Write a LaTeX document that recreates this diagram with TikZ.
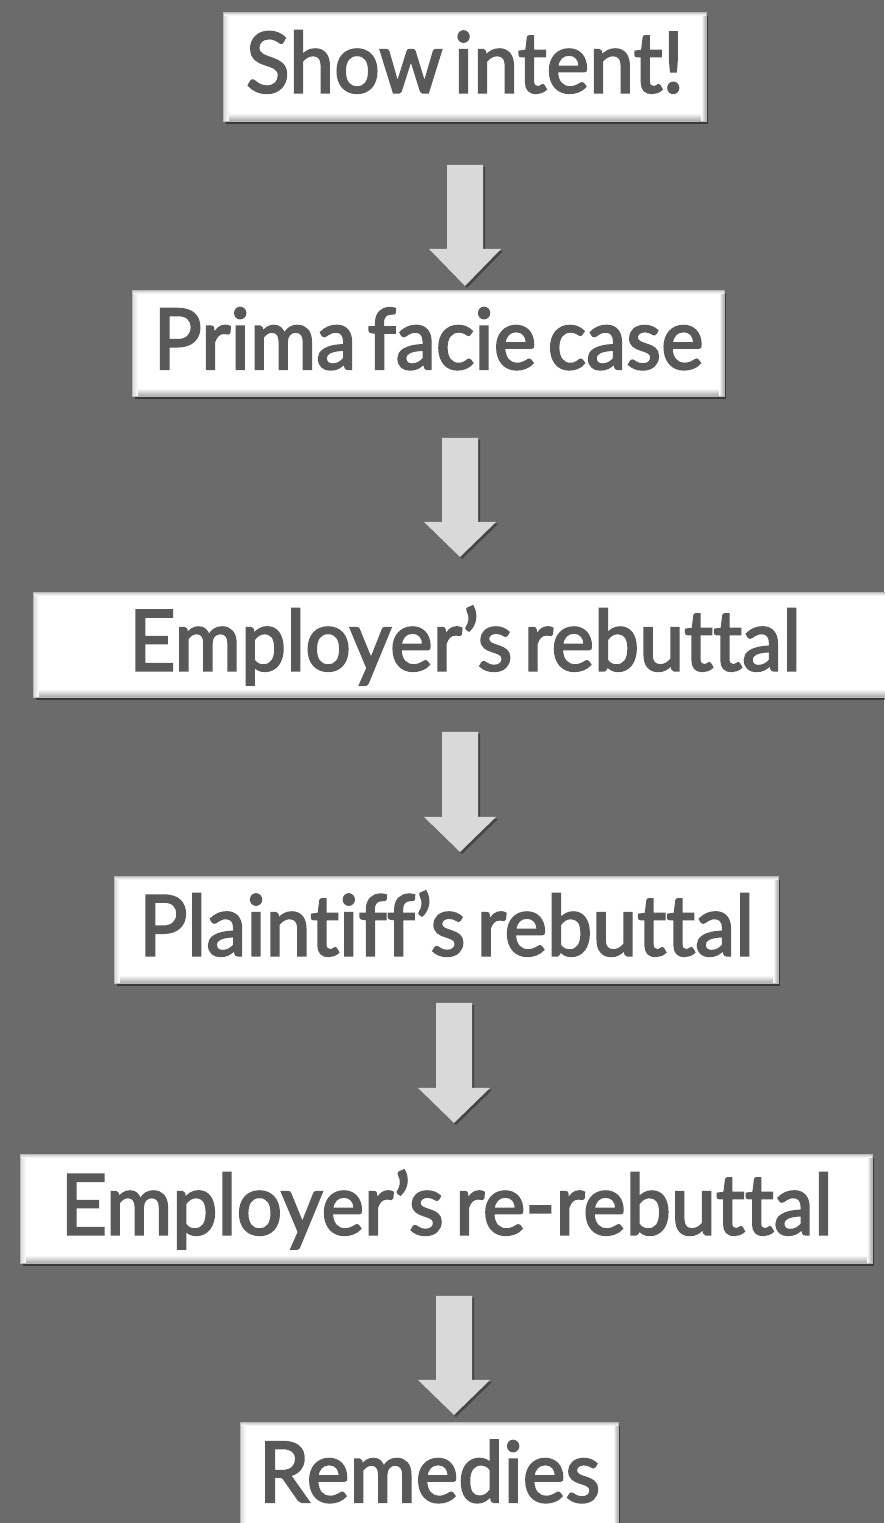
\documentclass[tikz,border=0pt]{standalone}
\usepackage{fontspec}
\setmainfont{Lato}[Ligatures=NoCommon, FakeStretch=0.96, WordSpace=0.55, FakeBold=2.5]
\usetikzlibrary{shadows}
\definecolor{bg}{HTML}{6B6B6B}
\definecolor{txt}{HTML}{595959}
\definecolor{arr}{HTML}{D9D9D9}
\definecolor{edge}{HTML}{A6A6A6}
\tikzset{
  stepbox/.style={fill=white, inner sep=0pt, text=txt,
    drop shadow={shadow xshift=2pt, shadow yshift=-3pt, opacity=0.45, fill=black}},
  steptext/.style={inner sep=0pt, text=txt,
    font=\fontsize{84}{84}\selectfont, text height=60pt, text depth=9pt},
  blockarrow/.style={fill=arr, draw=none,
    drop shadow={shadow xshift=2pt, shadow yshift=-2pt, opacity=0.35, fill=black}}
}
\newcommand\mybevel[1]{%
  \shade[top color=white, bottom color=edge] ([yshift=8pt]#1.south west) rectangle (#1.south east);
  \shade[left color=white, right color=edge] ([xshift=-5pt]#1.south east) rectangle (#1.north east);
  \shade[left color=edge!40, right color=white] (#1.south west) rectangle ([xshift=5pt]#1.north west);
  \shade[top color=edge!50, bottom color=white] (#1.north west) rectangle ([yshift=-3pt]#1.north east);
  \draw[edge!80, line width=0.8pt] (#1.south west) rectangle (#1.north east);
}
\newcommand\myarrow[4]{% center x, top y, head start y, tip y (pixel coords, y down)
  \path[blockarrow] (#1-18,1523-#2) -- (#1+18,1523-#2) -- (#1+18,1523-#3) -- (#1+36,1523-#3)
    -- (#1,1523-#4) -- (#1-36,1523-#3) -- (#1-18,1523-#3) -- cycle;
}
\begin{document}
\begin{tikzpicture}[x=1pt,y=1pt]
\useasboundingbox (0,0) rectangle (884,1523);
\fill[bg] (0,0) rectangle (884,1523);

\node[stepbox, minimum width=482pt, minimum height=108pt] (n1) at (465,1456) {};
\node[stepbox, minimum width=591pt, minimum height=105pt] (n2) at (428.5,1179.5) {};
\node[stepbox, minimum width=862pt, minimum height=104pt] (n3) at (465,878) {};
\node[stepbox, minimum width=663pt, minimum height=106pt] (n4) at (446.5,593) {};
\node[stepbox, minimum width=851pt, minimum height=108pt] (n5) at (446.5,314) {};
\node[stepbox, minimum width=377pt, minimum height=107pt] (n6) at (429.5,46.5) {};

\mybevel{n1}\mybevel{n2}\mybevel{n3}\mybevel{n4}\mybevel{n5}\mybevel{n6}
\node[steptext] (t1) at (n1) {Show intent!};
\node[steptext] (t2) at (n2) {Prima facie case};
\node[steptext] (t3) at (n3) {Employer’s rebuttal};
\node[steptext] (t4) at (n4) {Plaintiff’s rebuttal};
\node[steptext] (t5) at (n5) {Employer’s re-rebuttal};
\node[steptext] (t6) at (n6) {Remedies};

\myarrow{465}{165}{249}{286}
\myarrow{460}{438}{522}{557}
\myarrow{460}{732}{817}{852}
\myarrow{454}{1003}{1088}{1123}
\myarrow{454}{1296}{1380}{1415}
\end{tikzpicture}
\end{document}
